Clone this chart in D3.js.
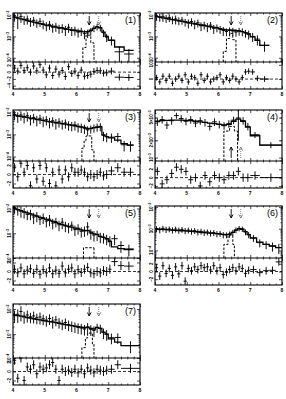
<!DOCTYPE html>
<html>
<head>
<meta charset="utf-8">
<script src="https://cdn.jsdelivr.net/npm/d3@7"></script>
<style>
  body { margin: 0; background: #fff; }
  svg { display: block; font-family: "Liberation Sans", Arial, sans-serif; }
</style>
</head>
<body>
<svg id="chart" width="286" height="399"></svg>
<script>
// ---- data (energies in keV, flux on log axis, residuals in sigma) ----
const fineEdges = [4.0,4.1,4.2,4.3,4.4,4.5,4.6,4.7,4.8,4.9,5.0,5.1,5.2,5.3,5.4,5.5,5.6,5.7,5.8,5.9,6.0,6.1,6.2,6.3,6.4,6.5,6.6,6.7,6.8,6.9,7.0];

// panel 1
const tail1 = [7.2,7.5,7.8];
const flux1 = [9.1e-3,7.4e-3,8.7e-3,6.3e-3,6.6e-3,5.1e-3,5.7e-3,4.4e-3,5.1e-3,3.9e-3,3.2e-3,3.7e-3,2.7e-3,3.0e-3,2.4e-3,2.6e-3,2.1e-3,2.7e-3,1.9e-3,2.0e-3,1.6e-3,1.8e-3,1.35e-3,1.45e-3,1.8e-3,2.45e-3,2.9e-3,2.6e-3,1.5e-3,9.3e-4,6.8e-4,1.9e-4,1.5e-4];
const err1 = [0.45,0.7,0.5,0.45,0.45,0.45,0.45,0.42,0.45,0.45,0.45,0.45,0.45,0.45,0.45,0.45,0.5,0.45,0.45,0.45,0.45,0.42,0.45,0.42,0.38,0.35,0.35,0.35,0.38,0.42,0.45,0.8,0.7];
const model1 = [8.0e-3,7.3e-3,6.7e-3,6.1e-3,5.6e-3,5.1e-3,4.7e-3,4.3e-3,4.0e-3,3.7e-3,3.4e-3,3.2e-3,2.95e-3,2.75e-3,2.6e-3,2.45e-3,2.3e-3,2.15e-3,2.0e-3,1.9e-3,1.8e-3,1.7e-3,1.62e-3,1.7e-3,1.95e-3,2.4e-3,2.8e-3,2.5e-3,1.6e-3,1.0e-3,6.5e-4,3.2e-4,2.2e-4];
const resid1 = [1.2,0.3,2.0,0.5,1.3,0,1.8,0.4,2.2,0.6,-0.8,1.2,-1.0,0.9,-0.6,0.5,-1.3,1.6,-0.4,0.3,-1.0,0.6,-1.2,-1.0,-0.6,0.2,0.5,0.4,-0.3,-0.2,0.3,-1.5,-1.6];
const lineEdges1 = [6.2,6.3,6.45,6.55];
const lineVals1 = [3e-4,1.15e-3,5e-4];

// panel 2
const tail2 = [7.15,7.3,7.6];
const flux2 = [9.0e-3,8.2e-3,8.8e-3,7.2e-3,7.8e-3,6.2e-3,6.6e-3,5.6e-3,5.9e-3,4.8e-3,4.3e-3,5.0e-3,3.9e-3,4.4e-3,3.2e-3,3.5e-3,2.9e-3,3.4e-3,2.4e-3,2.6e-3,2.2e-3,1.9e-3,1.7e-3,1.9e-3,1.8e-3,1.6e-3,1.8e-3,1.7e-3,1.45e-3,1.3e-3,1.0e-3,7.5e-4,3.8e-4];
const err2 = [0.4,0.4,0.45,0.4,0.4,0.4,0.45,0.4,0.4,0.4,0.45,0.4,0.45,0.4,0.45,0.4,0.45,0.4,0.45,0.4,0.4,0.45,0.4,0.4,0.4,0.4,0.4,0.4,0.4,0.45,0.45,0.5,0.5];
const model2 = [8.5e-3,8.0e-3,7.5e-3,7.0e-3,6.6e-3,6.2e-3,5.8e-3,5.4e-3,5.1e-3,4.8e-3,4.5e-3,4.2e-3,3.95e-3,3.7e-3,3.45e-3,3.25e-3,3.05e-3,2.85e-3,2.65e-3,2.5e-3,2.3e-3,2.15e-3,2.0e-3,2.0e-3,1.95e-3,1.85e-3,1.8e-3,1.7e-3,1.5e-3,1.3e-3,9.5e-4,6.5e-4,3.8e-4];
const resid2 = [1,-2,2,-1,2,-3,0,2,-1,3,-2,2,1,-3,3,-1,2,-2,0,1,3,-2,1,-1,2,0,-2,1,5,5.5,5,0.5,0];
const lineEdges2 = [6.15,6.25,6.35,6.45,6.55];
const lineVals2 = [2e-4,8e-4,1.4e-3,7e-4];

// panel 3
const tail3 = [7.2,7.4,7.6,7.8];
const flux3 = [7.8e-3,6.6e-3,7.5e-3,6.2e-3,6.9e-3,5.0e-3,5.8e-3,4.6e-3,5.3e-3,4.2e-3,4.6e-3,3.7e-3,4.1e-3,3.3e-3,3.7e-3,3.0e-3,3.3e-3,2.7e-3,2.5e-3,2.7e-3,2.2e-3,2.1e-3,1.9e-3,1.6e-3,1.8e-3,2.0e-3,2.2e-3,2.3e-3,9.0e-4,8.0e-4,7.5e-4,8.0e-4,3.4e-4,3.3e-4];
const err3 = [0.45,0.5,0.45,0.5,0.45,0.5,0.45,0.5,0.45,0.5,0.45,0.5,0.45,0.5,0.45,0.45,0.45,0.45,0.45,0.45,0.45,0.45,0.45,0.45,0.4,0.4,0.4,0.4,0.45,0.45,0.45,0.45,0.5,0.5];
const model3 = [7.4e-3,6.9e-3,6.5e-3,6.1e-3,5.8e-3,5.4e-3,5.1e-3,4.8e-3,4.5e-3,4.3e-3,4.0e-3,3.8e-3,3.6e-3,3.4e-3,3.2e-3,3.05e-3,2.9e-3,2.75e-3,2.6e-3,2.45e-3,2.3e-3,2.2e-3,2.05e-3,1.8e-3,1.85e-3,2.0e-3,2.1e-3,2.2e-3,9.5e-4,8.0e-4,7.0e-4,5.5e-4,3.8e-4,3.3e-4];
const resid3 = [1.5,-0.5,2.5,0.5,2.0,-2.5,1.5,-1.0,2.0,-1.5,1.5,-2.0,0.5,-2.5,1.0,-1.0,1.0,-0.5,1.5,0.5,0.5,1.0,0.5,-0.5,0,-0.5,0,0.5,-0.3,0,0.8,1.5,0.5,0.5];
const lineEdges3 = [6.17,6.24,6.3,6.48,6.55];
const lineVals3 = [2.4e-4,5.2e-4,8.5e-4,2.0e-4];

// panel 4 (coarser binning)
const edges4 = [4.0,4.15,4.3,4.45,4.6,4.75,4.9,5.05,5.2,5.35,5.5,5.65,5.8,5.95,6.1,6.25,6.4,6.55,6.7,6.85,7.0,7.3,8.0];
const flux4 = [4.2e-3,4.6e-3,3.7e-3,4.4e-3,5.4e-3,4.8e-3,4.3e-3,4.6e-3,4.0e-3,4.4e-3,4.1e-3,3.5e-3,4.2e-3,3.8e-3,3.6e-3,3.9e-3,4.5e-3,4.9e-3,4.4e-3,3.5e-3,2.5e-3,1.65e-3];
const err4 = [0.15,0.15,0.15,0.15,0.12,0.15,0.15,0.15,0.15,0.15,0.15,0.15,0.15,0.15,0.15,0.15,0.15,0.6,0.15,0.15,0.12,0.12];
const model4 = [4.3e-3,4.4e-3,4.45e-3,4.5e-3,4.5e-3,4.5e-3,4.45e-3,4.4e-3,4.3e-3,4.2e-3,4.1e-3,4.0e-3,3.9e-3,3.8e-3,3.7e-3,3.8e-3,4.3e-3,4.7e-3,4.3e-3,3.4e-3,2.4e-3,1.65e-3];
const resid4 = [1.5,-1.5,-0.5,1.0,2.5,2.0,1.5,-0.5,0,-2.0,0.5,-1.0,0.5,0,-0.5,0.5,0.5,1.5,0,0,0.5,0];
const lineEdges4 = [6.17,6.35,6.5,6.6];
const lineVals4 = [2.9e-3,3.5e-3,2.9e-3];

// panel 5
const tail5 = [7.1,7.3,7.5,7.8];
const flux5 = [1.1e-2,8.9e-3,8.1e-3,7.1e-3,5.8e-3,6.1e-3,4.5e-3,5.0e-3,3.7e-3,4.3e-3,3.1e-3,3.7e-3,2.6e-3,2.95e-3,2.2e-3,2.8e-3,2.0e-3,1.8e-3,2.1e-3,1.4e-3,1.6e-3,1.2e-3,1.3e-3,1.8e-3,1.0e-3,8.4e-4,8.8e-4,7.2e-4,6.9e-4,6.0e-4,5.2e-4,6.0e-4,3.2e-4,2.3e-4];
const err5 = [0.45,0.42,0.48,0.45,0.42,0.45,0.48,0.45,0.42,0.45,0.45,0.48,0.45,0.42,0.45,0.48,0.45,0.45,0.42,0.45,0.45,0.45,0.45,0.55,0.45,0.45,0.45,0.45,0.45,0.45,0.45,0.45,0.5,0.5];
const model5 = [1.0e-2,9.0e-3,8.1e-3,7.3e-3,6.6e-3,6.0e-3,5.4e-3,4.9e-3,4.4e-3,4.0e-3,3.6e-3,3.3e-3,3.0e-3,2.7e-3,2.45e-3,2.25e-3,2.05e-3,1.9e-3,1.75e-3,1.6e-3,1.48e-3,1.36e-3,1.26e-3,1.3e-3,1.1e-3,9.5e-4,9.0e-4,7.5e-4,6.8e-4,6.0e-4,4.6e-4,2.8e-4,2.4e-4,2.2e-4];
const resid5 = [0.5,-0.3,0.8,-0.5,0.3,0.6,-0.4,0.5,-0.6,0.4,-0.3,0.8,-0.5,0.3,-0.4,1.2,-0.3,0.5,0.8,-0.5,0.4,-0.2,0.5,0.9,-0.3,-0.5,0,-0.3,0.2,0,0.5,2.2,1.3,1.2];
const lineEdges5 = [6.22,6.55];
const lineVals5 = [2.6e-4];

// panel 6
const tail6 = [7.2,7.4,7.6,7.8,8.0];
const flux6 = [1.0e-3,9.0e-4,1.05e-3,9.4e-4,9.8e-4,8.8e-4,9.6e-4,8.6e-4,9.3e-4,8.2e-4,8.6e-4,7.8e-4,8.2e-4,7.2e-4,7.6e-4,6.9e-4,7.1e-4,6.4e-4,6.6e-4,5.9e-4,6.1e-4,5.3e-4,5.2e-4,5.6e-4,6.8e-4,8.8e-4,1.05e-3,9.8e-4,7.2e-4,5.4e-4,3.8e-4,2.3e-4,1.9e-4,1.6e-4,1.35e-4];
const err6 = [0.3,0.32,0.3,0.32,0.3,0.32,0.3,0.32,0.3,0.32,0.3,0.32,0.3,0.32,0.3,0.32,0.3,0.32,0.3,0.32,0.3,0.32,0.3,0.32,0.3,0.3,0.28,0.28,0.3,0.32,0.35,0.4,0.4,0.45,0.5];
const model6 = [9.8e-4,9.5e-4,9.3e-4,9.1e-4,8.9e-4,8.7e-4,8.5e-4,8.3e-4,8.1e-4,7.9e-4,7.7e-4,7.5e-4,7.3e-4,7.1e-4,6.9e-4,6.7e-4,6.5e-4,6.3e-4,6.1e-4,5.9e-4,5.7e-4,5.5e-4,5.3e-4,5.6e-4,6.8e-4,8.6e-4,1.0e-3,9.5e-4,7.3e-4,5.3e-4,3.7e-4,2.4e-4,1.9e-4,1.6e-4,1.35e-4];
const resid6 = [1.0,-1.2,1.5,-0.5,0.8,-1.0,1.2,-0.6,1.5,-2.5,0.8,0.2,1.2,0.5,1.5,1.0,1.2,0.4,1.5,0.2,1.0,-0.8,-0.2,0.5,1.0,0.2,1.2,0.8,-0.5,0.3,0.5,-0.3,0.2,0.3,2.5];
const lineEdges6 = [6.17,6.3,6.45,6.5];
const lineVals6 = [1.9e-4,5.1e-4,1.9e-4];

// panel 7
const tail7 = [7.2,7.4,8.0];
const flux7 = [5.6e-3,6.2e-3,8.0e-3,5.2e-3,5.8e-3,4.9e-3,5.3e-3,4.5e-3,4.8e-3,4.1e-3,3.6e-3,4.2e-3,3.3e-3,3.7e-3,3.0e-3,2.6e-3,2.9e-3,2.4e-3,2.2e-3,2.0e-3,1.85e-3,1.75e-3,1.6e-3,1.9e-3,1.55e-3,1.4e-3,1.85e-3,1.7e-3,1.15e-3,1.0e-3,7.2e-4,7.4e-4,3.5e-4];
const err7 = [0.5,0.55,0.6,0.5,0.5,0.45,0.5,0.45,0.5,0.45,0.45,0.45,0.5,0.45,0.45,0.45,0.45,0.45,0.45,0.45,0.45,0.45,0.45,0.45,0.45,0.45,0.4,0.4,0.45,0.45,0.45,0.45,0.5];
const model7 = [5.8e-3,5.5e-3,5.2e-3,4.9e-3,4.6e-3,4.4e-3,4.1e-3,3.9e-3,3.7e-3,3.5e-3,3.3e-3,3.15e-3,3.0e-3,2.85e-3,2.7e-3,2.55e-3,2.4e-3,2.3e-3,2.2e-3,2.1e-3,2.0e-3,1.9e-3,1.8e-3,1.9e-3,1.7e-3,1.6e-3,1.85e-3,1.7e-3,1.2e-3,1.0e-3,6.5e-4,4.8e-4,3.5e-4];
const resid7 = [2.5,-1.5,3.0,-2.0,1.0,0.5,1.5,-0.5,1.0,0.5,0.8,1.5,2.0,0.5,-2.0,0.5,0,0.3,-0.2,0.5,-0.3,0.5,-0.5,0.8,0.3,-0.3,0.5,0.3,0,0.3,0.5,1.5,0.7];
const lineEdges7 = [6.17,6.28,6.35,6.5,6.55];
const lineVals7 = [2.9e-4,7e-4,1.1e-3,4e-4];

// axis ranges / ticks per panel
const panelNames = ['(1)','(2)','(3)','(4)','(5)','(6)','(7)'];
const logDomains = [[-4.2,-1.9],[-4.2,-1.9],[-4.2,-1.9],[-3.06,-2.17],[-4.0,-1.9],[-4.35,-1.95],[-3.95,-1.8]];
const specTicks = [[1e-2,1e-3,1e-4],[1e-2,1e-3,1e-4],[1e-2,1e-3,1e-4],[5e-3,2e-3,1e-3],[1e-2,1e-3,1e-4],[1e-2,1e-3,1e-4],[1e-2,1e-3,1e-4]];
const residDomains = [[-5,3],[-7,12],[-3,3],[-2.5,4],[-3,3],[-3.5,3.5],[-3,3]];
const residTicks = [[-4,-2,0,2],[0,10],[-2,0,2],[-2,0,2],[-2,0,2],[-2,0,2],[-2,0,2]];
const residErr = [1,2,1,1,1,1,1];
const xTicks = [4,5,6,7,8];
const arrowLines = [6.4, 6.7];

const panels = [
  {edges: fineEdges.concat(tail1), flux: flux1, err: err1, model: model1, resid: resid1, lineE: lineEdges1, lineV: lineVals1},
  {edges: fineEdges.concat(tail2), flux: flux2, err: err2, model: model2, resid: resid2, lineE: lineEdges2, lineV: lineVals2},
  {edges: fineEdges.concat(tail3), flux: flux3, err: err3, model: model3, resid: resid3, lineE: lineEdges3, lineV: lineVals3},
  {edges: edges4, flux: flux4, err: err4, model: model4, resid: resid4, lineE: lineEdges4, lineV: lineVals4, arrowsUp: true},
  {edges: fineEdges.concat(tail5), flux: flux5, err: err5, model: model5, resid: resid5, lineE: lineEdges5, lineV: lineVals5},
  {edges: fineEdges.concat(tail6), flux: flux6, err: err6, model: model6, resid: resid6, lineE: lineEdges6, lineV: lineVals6},
  {edges: fineEdges.concat(tail7), flux: flux7, err: err7, model: model7, resid: resid7, lineE: lineEdges7, lineV: lineVals7}
];

// ---- layout ----
const colX = [13, 155];
const panelW = 127;
const rowTop = [13, 110, 206, 304];
const rowDiv = [62, 161, 258, 358];
const rowBot = [89, 188, 285, 385];

const svg = d3.select('#chart');

function tickSet(g, axis, scale, vals, size, tx, ty) {
  g.append('g')
    .attr('transform', 'translate(' + tx + ',' + ty + ')')
    .call(axis(scale).tickValues(vals).tickSize(size).tickFormat(''))
    .call(a => a.select('.domain').remove())
    .selectAll('line').attr('stroke-width', 0.7);
}

function powLabel(g, v, px, py) {
  const e = Math.round(Math.floor(Math.log10(v) + 1e-9));
  const m = Math.round(v / Math.pow(10, e));
  const t = g.append('text')
    .attr('transform', 'translate(' + px + ',' + py + ') rotate(-90)')
    .attr('text-anchor', 'middle')
    .attr('font-size', 4.6)
    .attr('font-weight', 'bold');
  t.append('tspan').text((m === 1 ? '' : m + '×') + '10');
  t.append('tspan').attr('dy', -1.8).attr('font-size', 3.4).text('−' + Math.abs(e));
}

panels.forEach((p, i) => {
  const col = i % 2, row = Math.floor(i / 2);
  const x0 = colX[col], x1 = x0 + panelW;
  const top = rowTop[row], div = rowDiv[row], bot = rowBot[row];
  const lo = Math.pow(10, logDomains[i][0]), hi = Math.pow(10, logDomains[i][1]);

  const x = d3.scaleLinear().domain([4, 8]).range([x0, x1]);
  const y = d3.scaleLog().domain([lo, hi]).range([div, top]).clamp(true);
  const r = d3.scaleLinear().domain(residDomains[i]).range([bot, div]).clamp(true);

  const g = svg.append('g');
  const bins = p.flux.map((f, k) => ({
    a: p.edges[k], b: p.edges[k + 1], c: (p.edges[k] + p.edges[k + 1]) / 2,
    f: f, e: p.err[k], m: p.model[k], r: p.resid[k]
  }));

  // model histogram
  const step = d3.line().x(d => x(d[0])).y(d => y(d[1])).curve(d3.curveStepAfter);
  const mPts = bins.map(b => [b.a, b.m]);
  mPts.push([bins[bins.length - 1].b, bins[bins.length - 1].m]);
  g.append('path').attr('d', step(mPts))
    .attr('fill', 'none').attr('stroke', '#000').attr('stroke-width', 1.3);

  // line component (dashed)
  const lPts = [[p.lineE[0], lo]];
  p.lineV.forEach((v, k) => lPts.push([p.lineE[k], v]));
  lPts.push([p.lineE[p.lineE.length - 1], p.lineV[p.lineV.length - 1]]);
  lPts.push([p.lineE[p.lineE.length - 1], lo]);
  g.append('path').attr('d', step(lPts))
    .attr('fill', 'none').attr('stroke', '#000').attr('stroke-width', 1)
    .attr('stroke-dasharray', '2.5,1.5');

  // data crosses
  const cross = g.append('g').attr('stroke', '#000').attr('stroke-width', 0.95);
  cross.selectAll('.h').data(bins).join('line')
    .attr('x1', b => x(b.a)).attr('x2', b => x(b.b))
    .attr('y1', b => y(b.f)).attr('y2', b => y(b.f));
  cross.selectAll('.v').data(bins).join('line')
    .attr('x1', b => x(b.c)).attr('x2', b => x(b.c))
    .attr('y1', b => y(b.f * (1 - b.e))).attr('y2', b => y(b.f * (1 + b.e)));

  // residuals
  g.append('line').attr('x1', x0).attr('x2', x1).attr('y1', r(0)).attr('y2', r(0))
    .attr('stroke', '#000').attr('stroke-width', 0.8).attr('stroke-dasharray', '3,2');
  const rc = g.append('g').attr('stroke', '#000').attr('stroke-width', 0.95);
  rc.selectAll('.h').data(bins).join('line')
    .attr('x1', b => x(b.a)).attr('x2', b => x(b.b))
    .attr('y1', b => r(b.r)).attr('y2', b => r(b.r));
  rc.selectAll('.v').data(bins).join('line')
    .attr('x1', b => x(b.c)).attr('x2', b => x(b.c))
    .attr('y1', b => r(b.r - residErr[i])).attr('y2', b => r(b.r + residErr[i]));

  // arrows for 6.4 / 6.7 keV
  arrowLines.forEach((ev, k) => {
    const ax = x(ev);
    const col = k === 0 ? '#000' : '#777';
    const ya = p.arrowsUp ? div - 3 : top + 3;
    const yb = p.arrowsUp ? div - 14 : top + 12;
    const dir = p.arrowsUp ? 1 : -1;
    g.append('line').attr('x1', ax).attr('x2', ax).attr('y1', ya).attr('y2', yb)
      .attr('stroke', col).attr('stroke-width', 0.9)
      .attr('stroke-dasharray', k === 0 ? null : '1,1');
    g.append('path')
      .attr('d', 'M' + (ax - 1.8) + ',' + (yb + dir * 3.5) + 'L' + ax + ',' + yb + 'L' + (ax + 1.8) + ',' + (yb + dir * 3.5))
      .attr('fill', 'none').attr('stroke', col).attr('stroke-width', 0.9);
  });

  // frame
  g.append('rect').attr('x', x0).attr('y', top).attr('width', panelW).attr('height', bot - top)
    .attr('fill', 'none').attr('stroke', '#000').attr('stroke-width', 1.1);
  g.append('line').attr('x1', x0).attr('x2', x1).attr('y1', div).attr('y2', div)
    .attr('stroke', '#000').attr('stroke-width', 1.1);

  // ticks
  const minorX = d3.range(4, 8.001, 0.2).filter(v => Math.abs(v - Math.round(v)) > 1e-6);
  [[d3.axisBottom, top], [d3.axisTop, div], [d3.axisBottom, div], [d3.axisTop, bot]].forEach(([ax, yy]) => {
    tickSet(g, ax, x, xTicks, 3, 0, yy);
    tickSet(g, ax, x, minorX, 1.5, 0, yy);
  });
  const minorY = [];
  for (let d = Math.floor(logDomains[i][0]); d <= Math.ceil(logDomains[i][1]); d++) {
    for (let k = 2; k <= 9; k++) {
      const v = k * Math.pow(10, d);
      if (v > lo && v < hi) minorY.push(v);
    }
  }
  tickSet(g, d3.axisRight, y, specTicks[i], 3, x0, 0);
  tickSet(g, d3.axisLeft, y, specTicks[i], 3, x1, 0);
  tickSet(g, d3.axisRight, y, minorY, 1.5, x0, 0);
  tickSet(g, d3.axisLeft, y, minorY, 1.5, x1, 0);
  tickSet(g, d3.axisRight, r, residTicks[i], 3, x0, 0);
  tickSet(g, d3.axisLeft, r, residTicks[i], 3, x1, 0);

  // labels
  specTicks[i].forEach(v => powLabel(g, v, x0 - 2, y(v)));
  residTicks[i].forEach(v => {
    g.append('text')
      .attr('transform', 'translate(' + (x0 - 2) + ',' + r(v) + ') rotate(-90)')
      .attr('text-anchor', 'middle').attr('font-size', 4.6).attr('font-weight', 'bold')
      .text(v < 0 ? '−' + Math.abs(v) : String(v));
  });
  xTicks.forEach(v => {
    g.append('text').attr('x', x(v)).attr('y', bot + 7)
      .attr('text-anchor', 'middle').attr('font-size', 5).attr('font-weight', 'bold')
      .text(v);
  });
  g.append('text').attr('x', x1 - 4).attr('y', top + 9.5)
    .attr('text-anchor', 'end').attr('font-size', 9)
    .text(panelNames[i]);
});
</script>
</body>
</html>
